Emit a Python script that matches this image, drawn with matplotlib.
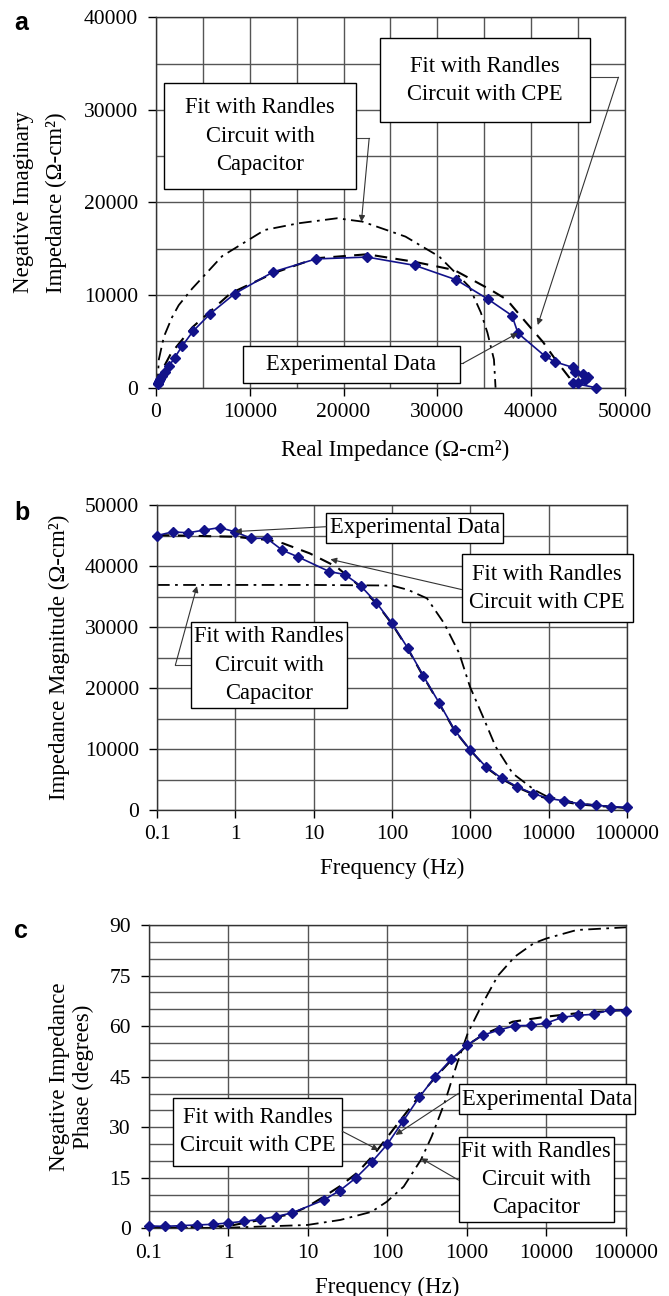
import matplotlib
matplotlib.use('Agg')
import matplotlib.pyplot as plt
from matplotlib.patches import Rectangle
from matplotlib.ticker import MultipleLocator, FixedLocator, NullLocator, FuncFormatter

plt.rcParams['font.family'] = ['Liberation Serif', 'DejaVu Serif']
plt.rcParams['font.size'] = 15

# ---- panel a: Nyquist plot (real vs negative imaginary impedance) ----
re_exp = [190, 240, 360, 460, 690, 950, 1420, 2000, 2780, 3950, 5800, 8400, 12500, 17050,
          22500, 27600, 32000, 35400, 37950, 38600, 41450, 42500, 44450, 44700, 45500,
          46100, 45700, 45000, 44500, 46900]
im_exp = [400, 500, 720, 890, 1250, 1700, 2380, 3250, 4480, 6100, 8000, 10150, 12500, 13900,
          14100, 13200, 11650, 9550, 7780, 5870, 3420, 2800, 2180, 1650, 1500,
          1200, 850, 470, 470, 0]
re_cpe = [150, 600, 1600, 3860, 7950, 12500, 17050, 22500, 27500, 31800, 35700, 37400,
          39360, 41280, 42680, 44090, 44430]
im_cpe = [300, 1800, 3700, 6500, 10190, 12350, 13970, 14400, 13600, 12700, 10550, 9500,
          7150, 4900, 2900, 1050, 140]
re_cap = [150, 300, 840, 1710, 2420, 3860, 7050, 11600, 15200, 19300, 22000, 26600, 30200,
          33400, 34630, 35330, 36030, 36200]
im_cap = [140, 3040, 5500, 7600, 8900, 10700, 14200, 17030, 17750, 18290, 17930, 16310, 14150,
          10900, 8120, 5950, 3040, 0]

# ---- panels b and c: Bode plots ----
freq = [0.1, 0.158, 0.251, 0.398, 0.631, 1, 1.58, 2.51, 3.98, 6.31, 15.8, 25.1, 39.8, 63.1,
        100, 158, 251, 398, 631, 1000, 1580, 2510, 3980, 6310, 10000, 15800, 25100, 39800,
        63100, 100000]
mag_exp = [45000, 45600, 45450, 45900, 46300, 45600, 44550, 44550, 42600, 41500, 39100, 38600,
           36750, 34000, 30600, 26600, 22000, 17600, 13100, 9800, 7100, 5200, 3800, 2700,
           1900, 1500, 1000, 800, 550, 450]
phase_exp = [0.7, 0.6, 0.8, 1.0, 1.2, 1.6, 2.1, 2.7, 3.5, 4.6, 8.4, 11.2, 14.9, 19.6, 25.0,
             31.9, 38.9, 45.0, 50.1, 54.4, 57.3, 58.8, 60.1, 60.2, 60.9, 62.6, 63.2, 63.5,
             64.8, 64.5]

f_cpe_b = [0.1, 1, 1.53, 2.75, 4.07, 8.9, 19.5, 35, 63.1, 100, 158, 251, 398, 631, 1000,
           1580, 2510, 3980, 6310, 10000, 25100, 100000]
mag_cpe = [45080, 44800, 44540, 44260, 43720, 42080, 39890, 37160, 33880, 30500, 26500, 21900,
           17500, 13000, 9800, 7000, 5100, 3700, 2600, 1800, 900, 300]
f_cap_b = [0.1, 1, 10, 100, 160, 280, 463, 721, 990, 1450, 2100, 3470, 6600, 9600, 23400, 100000]
mag_cap = [36900, 36900, 36900, 36800, 36100, 34700, 30600, 25700, 20200, 15300, 10400, 6000,
           3280, 2190, 1100, 270]

f_cpe_c = [0.1, 1, 6.1, 9.8, 15.8, 25.6, 41.6, 67, 151, 248, 407, 667, 1020, 1580, 3760,
           10000, 24000, 100000]
phase_cpe = [0.0, 0.7, 4.2, 6.4, 9.4, 12.6, 16.5, 21.8, 32.6, 39.1, 45.0, 50.4, 54.4, 57.4,
             61.3, 62.8, 63.8, 64.8]
f_cap_c = [0.1, 1, 9.8, 25.6, 63, 98, 160, 263, 359, 520, 753, 1023, 1580, 2440, 4000, 6950,
           10000, 24000, 100000]
phase_cap = [0.0, 0.2, 1.0, 2.5, 4.9, 7.9, 12.4, 20.3, 27.2, 37.1, 49.0, 57.9, 66.8, 74.9,
             80.6, 84.6, 86.0, 88.5, 89.3]

freq_ticks = [0.1, 1, 10, 100, 1000, 10000, 100000]

NAVY = '#12128a'
GRID = '#555555'
LABEL_SIZE = 16.5
BOX_SIZE = 16.3
plain = FuncFormatter(lambda v, p: f'{v:g}')


def style_axes(ax):
    ax.grid(True, which='both', color=GRID, lw=1.0)
    ax.set_axisbelow(True)
    for s in ax.spines.values():
        s.set_color('#333333')
        s.set_linewidth(1.0)
    ax.tick_params(which='major', direction='out', length=6, width=1, pad=5, labelsize=15.5)
    ax.tick_params(which='minor', length=0)


def draw_curves(ax, x_exp, y_exp, x_cpe, y_cpe, x_cap, y_cap):
    ax.plot(x_cap, y_cap, color='black', lw=1.3, dashes=(7, 3, 1.5, 3), zorder=2)
    ax.plot(x_cpe, y_cpe, color='black', lw=1.5, dashes=(6, 4), zorder=2)
    ax.plot(x_exp, y_exp, color=NAVY, lw=1.2, marker='D', ms=4.8, mec=NAVY, mfc=NAVY,
            zorder=3, clip_on=False)


def note(ax, box, text, path, tip):
    # box given in axes fraction: (x0, y0, x1, y1)
    x0, y0, x1, y1 = box
    ax.add_patch(Rectangle((x0, y0), x1 - x0, y1 - y0, transform=ax.transAxes,
                           facecolor='white', edgecolor='black', lw=1.0, clip_on=False, zorder=5))
    ax.text((x0 + x1) / 2, (y0 + y1) / 2, text, transform=ax.transAxes, ha='center',
            va='center', fontsize=BOX_SIZE, linespacing=1.45, zorder=6)
    if len(path) > 1:
        ax.plot([p[0] for p in path], [p[1] for p in path], transform=ax.transAxes,
                color='#444444', lw=0.8, clip_on=False, zorder=4)
    ax.annotate('', xy=tip, xytext=path[-1], xycoords='axes fraction',
                textcoords='axes fraction',
                arrowprops=dict(arrowstyle='-|>', color='#333333', lw=0.8, mutation_scale=9,
                                shrinkA=0, shrinkB=0), zorder=7)


fig = plt.figure(figsize=(6.69, 12.96), dpi=100)
ax_a = fig.add_axes([0.2332, 0.7009, 0.7010, 0.2858])
ax_b = fig.add_axes([0.2347, 0.375, 0.7025, 0.2353])
ax_c = fig.add_axes([0.2227, 0.0522, 0.7130, 0.2341])

# a
style_axes(ax_a)
draw_curves(ax_a, re_exp, im_exp, re_cpe, im_cpe, re_cap, im_cap)
ax_a.set_xlim(0, 50000)
ax_a.set_ylim(0, 40000)
ax_a.xaxis.set_major_locator(MultipleLocator(10000))
ax_a.xaxis.set_minor_locator(MultipleLocator(5000))
ax_a.yaxis.set_major_locator(MultipleLocator(10000))
ax_a.yaxis.set_minor_locator(MultipleLocator(5000))
ax_a.xaxis.set_major_formatter(plain)
ax_a.yaxis.set_major_formatter(plain)
ax_a.tick_params(axis='y', pad=7)
ax_a.set_xlabel('Real Impedance (Ω-cm²)', fontsize=LABEL_SIZE)
ax_a.xaxis.set_label_coords(0.51, -0.141)
ax_a.set_ylabel('Negative Imaginary\nImpedance (Ω-cm²)', fontsize=LABEL_SIZE, linespacing=1.7)
ax_a.yaxis.set_label_coords(-0.19, 0.5)
note(ax_a, (0.018, 0.536, 0.427, 0.822), 'Fit with Randles\nCircuit with\nCapacitor',
     [(0.427, 0.673), (0.4545, 0.673)], (0.438, 0.448))
note(ax_a, (0.477, 0.716, 0.925, 0.943), 'Fit with Randles\nCircuit with CPE',
     [(0.925, 0.838), (0.986, 0.838)], (0.814, 0.169))
note(ax_a, (0.185, 0.012, 0.648, 0.113), 'Experimental Data',
     [(0.648, 0.066), (0.655, 0.066)], (0.771, 0.147))

# b
style_axes(ax_b)
ax_b.set_xscale('log')
draw_curves(ax_b, freq, mag_exp, f_cpe_b, mag_cpe, f_cap_b, mag_cap)
ax_b.set_xlim(0.1, 100000)
ax_b.set_ylim(0, 50000)
ax_b.xaxis.set_major_locator(FixedLocator(freq_ticks))
ax_b.xaxis.set_minor_locator(NullLocator())
ax_b.xaxis.set_major_formatter(plain)
ax_b.yaxis.set_major_locator(MultipleLocator(10000))
ax_b.yaxis.set_minor_locator(MultipleLocator(5000))
ax_b.yaxis.set_major_formatter(plain)
ax_b.tick_params(axis='y', pad=7)
ax_b.set_xlabel('Frequency (Hz)', fontsize=LABEL_SIZE)
ax_b.xaxis.set_label_coords(0.5, -0.157)
ax_b.set_ylabel('Impedance Magnitude (Ω-cm²)', fontsize=LABEL_SIZE)
ax_b.yaxis.set_label_coords(-0.185, 0.5)
note(ax_b, (0.36, 0.877, 0.737, 0.975), 'Experimental Data',
     [(0.36, 0.929)], (0.166, 0.913))
note(ax_b, (0.648, 0.617, 1.012, 0.838), 'Fit with Randles\nCircuit with CPE',
     [(0.648, 0.723)], (0.369, 0.822))
note(ax_b, (0.073, 0.333, 0.405, 0.617), 'Fit with Randles\nCircuit with\nCapacitor',
     [(0.073, 0.475), (0.039, 0.475)], (0.085, 0.734))

# c
style_axes(ax_c)
ax_c.set_xscale('log')
draw_curves(ax_c, freq, phase_exp, f_cpe_c, phase_cpe, f_cap_c, phase_cap)
ax_c.set_xlim(0.1, 100000)
ax_c.set_ylim(0, 90)
ax_c.xaxis.set_major_locator(FixedLocator(freq_ticks))
ax_c.xaxis.set_minor_locator(NullLocator())
ax_c.xaxis.set_major_formatter(plain)
ax_c.yaxis.set_major_locator(MultipleLocator(15))
ax_c.yaxis.set_minor_locator(MultipleLocator(5))
ax_c.tick_params(axis='y', pad=7)
ax_c.set_xlabel('Frequency (Hz)', fontsize=LABEL_SIZE)
ax_c.xaxis.set_label_coords(0.5, -0.161)
ax_c.set_ylabel('Negative Impedance\nPhase (degrees)', fontsize=LABEL_SIZE, linespacing=1.2)
ax_c.yaxis.set_label_coords(-0.115, 0.5)
note(ax_c, (0.051, 0.207, 0.405, 0.429), 'Fit with Randles\nCircuit with CPE',
     [(0.405, 0.32)], (0.481, 0.258))
note(ax_c, (0.649, 0.376, 1.018, 0.476), 'Experimental Data',
     [(0.649, 0.445)], (0.517, 0.308))
note(ax_c, (0.649, 0.02, 0.975, 0.302), 'Fit with Randles\nCircuit with\nCapacitor',
     [(0.649, 0.159)], (0.570, 0.231))

# panel letters
for letter, y in [('a', 0.982), ('b', 0.604), ('c', 0.282)]:
    fig.text(0.021, y, letter, family='Liberation Sans', weight='bold', fontsize=18,
             ha='left', va='center')

fig.savefig('out.png', dpi=100)
